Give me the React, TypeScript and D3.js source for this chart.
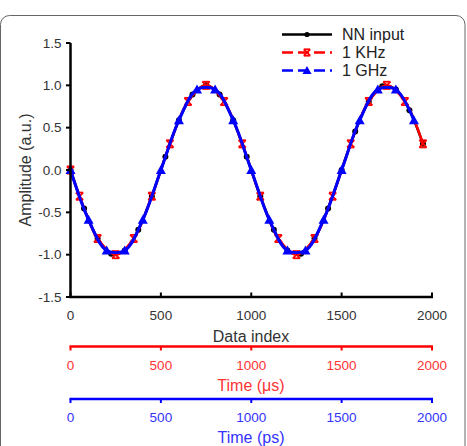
import React from "react";
import * as d3 from "d3";

// NN input (black), sampled every 75 data indices
const nnIndex = [0, 75, 150, 225, 300, 375, 450, 525, 600, 675, 750, 825, 900, 975, 1050, 1125, 1200, 1275, 1350, 1425, 1500, 1575, 1650, 1725, 1800, 1875, 1950];
const nnValue = [0, -0.454, -0.809, -0.988, -0.951, -0.707, -0.309, 0.156, 0.588, 0.891, 1.0, 0.891, 0.588, 0.156, -0.309, -0.707, -0.951, -0.988, -0.809, -0.454, 0, 0.454, 0.809, 0.988, 0.951, 0.707, 0.309];

// 1 KHz (red)
const khzIndex = [0, 50, 150, 250, 350, 450, 550, 650, 750, 850, 950, 1050, 1150, 1250, 1350, 1450, 1550, 1650, 1750, 1850, 1950];
const khzValue = [0, -0.309, -0.809, -1.0, -0.809, -0.309, 0.309, 0.809, 1.0, 0.809, 0.309, -0.309, -0.809, -1.0, -0.809, -0.309, 0.309, 0.809, 1.0, 0.809, 0.309];

// 1 GHz (blue)
const ghzIndex = [0, 100, 200, 300, 400, 500, 600, 700, 800, 900, 1000, 1100, 1200, 1300, 1400, 1500, 1600, 1700, 1800, 1900];
const ghzValue = [0, -0.588, -0.951, -0.951, -0.588, 0, 0.588, 0.951, 0.951, 0.588, 0, -0.588, -0.951, -0.951, -0.588, 0, 0.588, 0.951, 0.951, 0.588];

const xTicks = [0, 500, 1000, 1500, 2000];
const yTicks = [-1.5, -1.0, -0.5, 0.0, 0.5, 1.0, 1.5];
const legendLabels = ["NN input", "1 KHz", "1 GHz"];

const FONT = "'Liberation Sans', Arial, sans-serif";

export default function App() {
  const W = 467, H = 446;
  const x = d3.scaleLinear().domain([0, 2000]).range([70.5, 432]);
  const y = d3.scaleLinear().domain([-1.5, 1.5]).range([297, 43]);

  const mk = (xs: number[], ys: number[]) => xs.map((v, i) => [v, ys[i]] as [number, number]);
  const nn = mk(nnIndex, nnValue);
  const khz = mk(khzIndex, khzValue);
  const ghz = mk(ghzIndex, ghzValue);

  const line = d3.line<[number, number]>().x(d => x(d[0])).y(d => y(d[1])).curve(d3.curveCatmullRom);

  const star = (cx: number, cy: number, k: string, s = 3.6) => (
    <g key={k} stroke="#ff0000" strokeWidth={1.8}>
      <line x1={cx - s} y1={cy - s} x2={cx + s} y2={cy + s} />
      <line x1={cx - s} y1={cy + s} x2={cx + s} y2={cy - s} />
      <line x1={cx - s} y1={cy - s} x2={cx + s} y2={cy - s} />
      <line x1={cx - s} y1={cy + s} x2={cx + s} y2={cy + s} />
    </g>
  );
  const tri = (cx: number, cy: number, k: string, s = 5) => (
    <path key={k} d={`M${cx},${cy - s}L${cx + s},${cy + s * 0.8}L${cx - s},${cy + s * 0.8}Z`} fill="#0000ff" />
  );

  const redAxisY = 346.5;
  const blueAxisY = 399;

  return (
    <div style={{ position: "absolute", left: 0, top: 0 }}>
      <svg width={W} height={H} style={{ display: "block", background: "#fff" }}>
        <rect x={0.5} y={15.5} width={464.5} height={470} rx={9} fill="none" stroke="#666" strokeWidth={1} />

        {/* series */}
        <path d={line(nn) || ""} fill="none" stroke="#000" strokeWidth={2.5} />
        {nn.map((d, i) => <circle key={"n" + i} cx={x(d[0])} cy={y(d[1])} r={3} fill="#000" />)}
        <path d={line(khz) || ""} fill="none" stroke="#ff0000" strokeWidth={2.5} />
        {khz.map((d, i) => star(x(d[0]), y(d[1]), "k" + i))}
        <path d={line(ghz) || ""} fill="none" stroke="#0000ff" strokeWidth={3} />
        {ghz.map((d, i) => tri(x(d[0]), y(d[1]), "g" + i))}

        {/* y axis */}
        <line x1={70.5} y1={43} x2={70.5} y2={298} stroke="#000" strokeWidth={2.5} />
        {yTicks.map(t => (
          <g key={"yt" + t}>
            <line x1={66} x2={70.5} y1={y(t)} y2={y(t)} stroke="#000" strokeWidth={2} />
            <text x={61.5} y={y(t)} dy="0.35em" textAnchor="end" fontFamily={FONT} fontSize={13.5} fill="#333">{t.toFixed(1)}</text>
          </g>
        ))}
        <text transform={`translate(31,170) rotate(-90)`} textAnchor="middle" fontFamily={FONT} fontSize={16} fill="#333">Amplitude (a.u.)</text>

        {/* x axis */}
        <line x1={69.3} y1={297} x2={433} y2={297} stroke="#000" strokeWidth={2.5} />
        {xTicks.map(t => (
          <g key={"xt" + t}>
            <line x1={x(t)} x2={x(t)} y1={297} y2={292.5} stroke="#000" strokeWidth={2} />
            <text x={x(t)} y={315} dy="0.35em" textAnchor="middle" fontFamily={FONT} fontSize={13.5} fill="#333">{t}</text>
          </g>
        ))}
        <text x={251} y={336} dy="0.35em" textAnchor="middle" fontFamily={FONT} fontSize={16} fill="#333">Data index</text>

        {/* red time axis */}
        <line x1={69.5} y1={redAxisY} x2={433} y2={redAxisY} stroke="#ff0000" strokeWidth={2.5} />
        {xTicks.map(t => (
          <g key={"rt" + t}>
            <line x1={x(t)} x2={x(t)} y1={redAxisY} y2={redAxisY + 4} stroke="#ff0000" strokeWidth={2} />
            <text x={x(t)} y={365} dy="0.35em" textAnchor="middle" fontFamily={FONT} fontSize={13.5} fill="#ff3333">{t}</text>
          </g>
        ))}
        <text x={251} y={385} dy="0.35em" textAnchor="middle" fontFamily={FONT} fontSize={16} fill="#ff3333">Time (μs)</text>

        {/* blue time axis */}
        <line x1={69.5} y1={blueAxisY} x2={433} y2={blueAxisY} stroke="#0000ff" strokeWidth={2.5} />
        {xTicks.map(t => (
          <g key={"bt" + t}>
            <line x1={x(t)} x2={x(t)} y1={blueAxisY} y2={blueAxisY + 4} stroke="#0000ff" strokeWidth={2} />
            <text x={x(t)} y={417} dy="0.35em" textAnchor="middle" fontFamily={FONT} fontSize={13.5} fill="#3333ff">{t}</text>
          </g>
        ))}
        <text x={251} y={437} dy="0.35em" textAnchor="middle" fontFamily={FONT} fontSize={16} fill="#3333ff">Time (ps)</text>

        {/* legend */}
        {legendLabels.map((lab, i) => {
          const ly = 34.5 + i * 18;
          const col = ["#000", "#ff0000", "#0000ff"][i];
          return (
            <g key={"lg" + i}>
              <line x1={282} x2={332} y1={ly} y2={ly} stroke={col} strokeWidth={2.5} strokeDasharray={i === 0 ? undefined : "11,5"} />
              {i === 0 && <circle cx={307} cy={ly} r={2.6} fill="#000" />}
              {i === 1 && star(307, ly, "ls", 3.2)}
              {i === 2 && tri(307, ly, "lt", 4.5)}
              <text x={342} y={ly} dy="0.35em" fontFamily={FONT} fontSize={16} fill="#222">{lab}</text>
            </g>
          );
        })}
      </svg>
    </div>
  );
}
